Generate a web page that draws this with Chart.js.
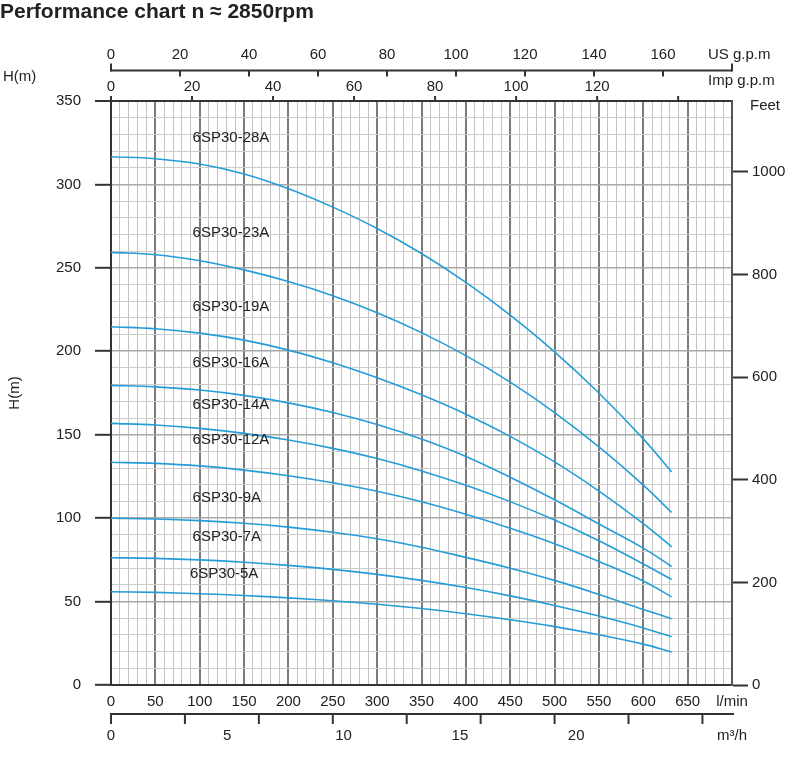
<!DOCTYPE html>
<html lang="en">
<head>
<meta charset="UTF-8">
<title>Performance chart n ≈ 2850rpm</title>
<script src="https://cdn.jsdelivr.net/npm/chart.js"></script>
<style>
  html, body { margin: 0; padding: 0; background: #fff; }
  #wrap { width: 800px; height: 764px; position: relative; }
</style>
</head>
<body>
<div id="wrap"><canvas id="chart"></canvas></div>
<script>
// flow points (l/min) and head (m)
const flowLpm = [0, 50, 100, 150, 200, 250, 300, 350, 400, 450, 500, 550, 600, 632];
const h28A = [316.6, 315.4, 312.2, 306.2, 297.4, 286.4, 273.6, 258.6, 241.3, 221.7, 199.7, 175.0, 147.5, 127.7];
const h23A = [259.3, 257.9, 254.3, 248.8, 241.8, 233.3, 223.1, 211.2, 197.4, 181.5, 163.3, 142.7, 119.8, 103.4];
const h19A = [214.7, 213.5, 210.9, 206.7, 200.7, 193.1, 184.1, 173.9, 162.3, 149.0, 133.7, 116.2, 96.7, 82.8];
const h16A = [179.6, 178.7, 176.8, 173.6, 169.1, 163.3, 156.1, 147.4, 137.0, 124.5, 111.0, 96.5, 82.0, 71.0];
const h14A = [156.8, 155.8, 153.8, 150.8, 146.8, 141.8, 135.7, 128.3, 119.7, 109.9, 98.9, 86.5, 72.5, 63.2];
const h12A = [133.5, 132.8, 131.3, 128.8, 125.4, 121.2, 116.1, 109.8, 102.3, 93.9, 84.7, 74.0, 62.3, 52.8];
const h9A = [99.9, 99.5, 98.5, 96.9, 94.6, 91.5, 87.6, 82.6, 76.5, 70.0, 62.7, 54.3, 45.3, 39.7];
const h7A = [76.3, 75.9, 75.0, 73.6, 71.7, 69.3, 66.3, 62.7, 58.4, 53.4, 47.7, 41.3, 34.2, 28.9];
const h5A = [55.9, 55.5, 54.7, 53.6, 52.2, 50.5, 48.4, 45.8, 42.7, 39.1, 35.0, 30.1, 24.5, 19.8];

const curveNames = ['6SP30-28A', '6SP30-23A', '6SP30-19A', '6SP30-16A', '6SP30-14A', '6SP30-12A', '6SP30-9A', '6SP30-7A', '6SP30-5A'];
const curveHeads = [h28A, h23A, h19A, h16A, h14A, h12A, h9A, h7A, h5A];
// where each curve name sits (l/min, m)
const labelFlow = [92, 92, 92, 92, 92, 92, 92, 92, 89];
const labelHead = [327.8, 270.7, 226.7, 193.2, 167.8, 146.8, 112.3, 88.9, 66.5];

// axis ranges / tick labels
const lpmMax = 700;
const headMax = 350;
const feetMax = 1138;
const usTicks = [0, 20, 40, 60, 80, 100, 120, 140, 160, 180];
const usLabels = [0, 20, 40, 60, 80, 100, 120, 140, 160];
const usMax = 180;
const impTicks = [0, 20, 40, 60, 80, 100, 120, 140];
const impLabels = [0, 20, 40, 60, 80, 100, 120];
const impMax = 153.3;
const m3Ticks = [0, 5, 10, 15, 20, 25, 30, 35, 40];
const m3Max = 42;
const m3Labels = [0, 5, 10, 15, 20];
const m3LabelMax = 26.7;

const titleText = 'Performance chart n \u2248 2850rpm';
const FONT = '"Liberation Sans", Arial, sans-serif';
const curveColor = '#259dd8';

const extraAxes = {
  id: 'extraAxes',
  afterDraw(chart) {
    const ctx = chart.ctx;
    const s = chart.scales;
    const line = (x1, y1, x2, y2) => { ctx.beginPath(); ctx.moveTo(x1, y1); ctx.lineTo(x2, y2); ctx.stroke(); };
    ctx.save();
    ctx.fillStyle = '#222';
    ctx.strokeStyle = '#333';
    ctx.lineWidth = 2;

    ctx.font = 'bold 21px ' + FONT;
    ctx.textAlign = 'left';
    ctx.textBaseline = 'middle';
    ctx.fillText(titleText, 0, 12);

    ctx.font = '15px ' + FONT;
    // US g.p.m axis
    const usY = 70.5;
    line(s.us.getPixelForValue(0), usY, s.us.getPixelForValue(usMax), usY);
    usTicks.forEach(v => {
      const px = s.us.getPixelForValue(v);
      if (v === 0 || v === usMax) line(px, usY - 7, px, usY + 1);
      else line(px, usY, px, usY + 6);
    });
    ctx.textAlign = 'center';
    usLabels.forEach(v => ctx.fillText(String(v), s.us.getPixelForValue(v), 55));
    ctx.textAlign = 'left';
    ctx.fillText('US g.p.m', 708, 55);

    // Imp g.p.m axis (sits on the top of the grid)
    const top = chart.chartArea.top;
    impTicks.forEach(v => {
      const px = s.imp.getPixelForValue(v);
      line(px, top - 5, px, top);
    });
    ctx.textAlign = 'center';
    impLabels.forEach(v => ctx.fillText(String(v), s.imp.getPixelForValue(v), 87));
    ctx.textAlign = 'left';
    ctx.fillText('Imp g.p.m', 708, 81);
    ctx.fillText('Feet', 750, 106);
    ctx.fillText('H(m)', 3, 77);

    // m3/h axis under the l/min labels
    const mY = 714;
    line(s.m3.getPixelForValue(0) - 1, mY, s.m3.getPixelForValue(m3Max) + 2, mY);
    m3Ticks.forEach(v => {
      const px = s.m3.getPixelForValue(v);
      line(px, mY, px, mY + 10);
    });
    ctx.textAlign = 'center';
    m3Labels.forEach(v => ctx.fillText(String(v), s.m3lab.getPixelForValue(v), 736));
    ctx.textAlign = 'left';
    ctx.fillText('m\u00b3/h', 717, 736);

    // curve names
    curveNames.forEach((n, i) => {
      ctx.fillText(n, s.x.getPixelForValue(labelFlow[i]), s.y.getPixelForValue(labelHead[i]));
    });
    ctx.restore();
  }
};

const datasets = curveNames.map((name, i) => ({
  label: name,
  data: flowLpm.map((f, j) => ({ x: f, y: curveHeads[i][j] })),
  borderColor: curveColor,
  borderWidth: 1.6,
  pointRadius: 0,
  fill: false,
  tension: 0.4
}));

const hidden = (max, pos) => ({ type: 'linear', axis: 'x', position: pos, display: false, min: 0, max: max });

new Chart(document.getElementById('chart'), {
  type: 'line',
  data: { datasets: datasets },
  options: {
    responsive: true,
    maintainAspectRatio: false,
    animation: false,
    layout: { padding: { top: 101, left: 0, right: 0, bottom: 0 } },
    plugins: { legend: { display: false }, tooltip: { enabled: false } },
    scales: {
      x: {
        type: 'linear', position: 'bottom', min: 0, max: lpmMax,
        afterFit: sc => { sc.height = 79; },
        ticks: {
          stepSize: 10, autoSkip: false, maxRotation: 0, minRotation: 0, padding: 8,
          color: '#222', font: { family: FONT, size: 15 },
          callback: v => v % 50 === 0 ? (v === lpmMax ? 'l/min' : String(v)) : ''
        },
        grid: {
          drawTicks: false,
          color: c => c.tick.value % 50 === 0 ? '#7b7b7b' : '#c2c2c2',
          lineWidth: c => c.tick.value % 50 === 0 ? 2 : 1
        },
        border: { color: '#333', width: 2 }
      },
      y: {
        type: 'linear', position: 'left', min: 0, max: headMax,
        afterFit: sc => { sc.width = 111; },
        title: { display: true, text: 'H(m)', color: '#222', font: { family: FONT, size: 15 }, padding: { top: 6, bottom: 0 } },
        ticks: {
          stepSize: 10, autoSkip: false, padding: 14,
          color: '#222', font: { family: FONT, size: 15 },
          callback: v => v % 50 === 0 ? String(v) : ''
        },
        grid: {
          tickLength: 16, tickWidth: 2,
          tickColor: c => c.tick.value % 50 === 0 ? '#333' : 'rgba(0,0,0,0)',
          color: c => c.tick.value === headMax ? '#333' : (c.tick.value % 50 === 0 ? '#a8a8a8' : '#cdcdcd'),
          lineWidth: c => c.tick.value === headMax ? 2 : (c.tick.value % 50 === 0 ? 1.6 : 1)
        },
        border: { color: '#333', width: 2 }
      },
      feet: {
        type: 'linear', position: 'right', min: 0, max: feetMax,
        afterFit: sc => { sc.width = 68; },
        ticks: {
          stepSize: 200, includeBounds: false, padding: 4,
          color: '#222', font: { family: FONT, size: 15 },
          callback: v => String(v)
        },
        grid: { drawOnChartArea: false, tickLength: 16, tickWidth: 2, tickColor: '#333' },
        border: { color: '#555', width: 2 }
      },
      us: hidden(usMax, 'top'),
      imp: hidden(impMax, 'top'),
      m3: hidden(m3Max, 'bottom'),
      m3lab: hidden(m3LabelMax, 'bottom')
    }
  },
  plugins: [extraAxes]
});
</script>
</body>
</html>
